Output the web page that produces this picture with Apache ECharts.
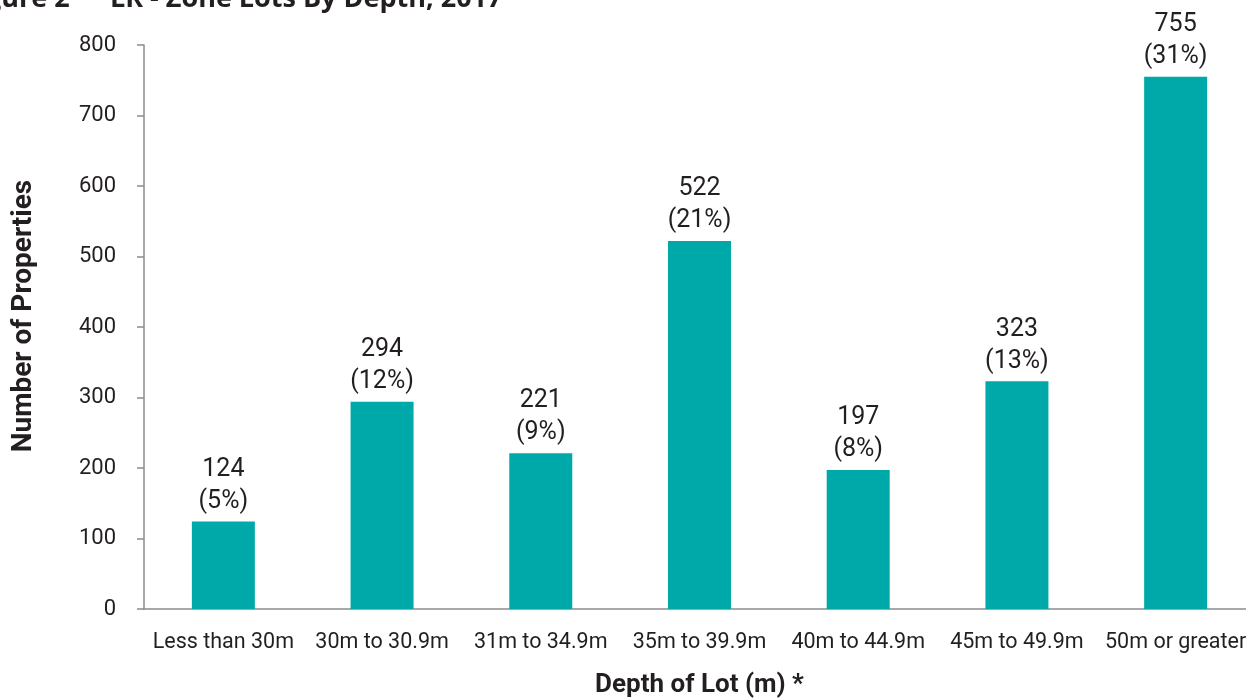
<!DOCTYPE html>
<html>
<head>
<meta charset="utf-8">
<script src="https://cdn.jsdelivr.net/npm/echarts@6/dist/echarts.min.js"></script>
<style>
html, body { margin: 0; padding: 0; background: #fff; }
#chart { width: 1246px; height: 698px; }
</style>
</head>
<body>
<div id="chart"></div>
<script>
const categories = ['Less than 30m', '30m to 30.9m', '31m to 34.9m', '35m to 39.9m', '40m to 44.9m', '45m to 49.9m', '50m or greater'];
const counts = [124, 294, 221, 522, 197, 323, 755];
const shares = ['5%', '12%', '9%', '21%', '8%', '13%', '31%'];

const font = 'Roboto';
const ink = '#231f20';
const axisGrey = '#8c8c8c';

const chart = echarts.init(document.getElementById('chart'));

chart.setOption({
  animation: false,
  title: [
    {
      text: 'Figure 2',
      left: -37,
      top: -14,
      padding: 0,
      textStyle: { fontFamily: 'Open Sans', fontWeight: 'bold', fontSize: 27, color: ink }
    },
    {
      text: 'LR - Zone Lots By Depth, 2017',
      left: 110,
      top: -14,
      padding: 0,
      textStyle: { fontFamily: 'Open Sans', fontWeight: 'bold', fontSize: 27, color: ink }
    }
  ],
  grid: { left: 144, right: -9, top: 45, bottom: 89, containLabel: false, outerBoundsMode: 'none' },
  xAxis: {
    type: 'category',
    data: categories,
    name: 'Depth of Lot (m) *',
    nameLocation: 'middle',
    nameGap: 63,
    nameMoveOverlap: false,
    nameTextStyle: { fontFamily: font, fontWeight: 'bold', fontSize: 26, color: ink },
    axisLine: { lineStyle: { color: axisGrey, width: 1.5 } },
    axisTick: { length: 7, lineStyle: { color: axisGrey, width: 1.5 } },
    axisLabel: { fontFamily: font, fontSize: 21.5, color: ink, margin: 23, interval: 0 }
  },
  yAxis: {
    type: 'value',
    min: 0,
    max: 800,
    interval: 100,
    name: 'Number of Properties',
    nameLocation: 'middle',
    nameGap: 106,
    nameMoveOverlap: false,
    nameTextStyle: { fontFamily: font, fontWeight: 'bold', fontSize: 28, color: ink, padding: [0, 0, 0, 22] },
    axisLine: { show: true, lineStyle: { color: axisGrey, width: 1.5 } },
    axisTick: { show: true, length: 7, lineStyle: { color: axisGrey, width: 1.5 } },
    axisLabel: { fontFamily: font, fontSize: 22, color: ink, margin: 28 },
    splitLine: { show: false }
  },
  series: [{
    type: 'bar',
    data: counts,
    barWidth: 63,
    itemStyle: { color: '#00a9a9' },
    label: {
      show: true,
      position: 'top',
      distance: 4,
      fontFamily: font,
      fontSize: 25,
      lineHeight: 32,
      color: ink,
      formatter: p => p.value + '\n(' + shares[p.dataIndex] + ')'
    }
  }]
});
</script>
</body>
</html>
